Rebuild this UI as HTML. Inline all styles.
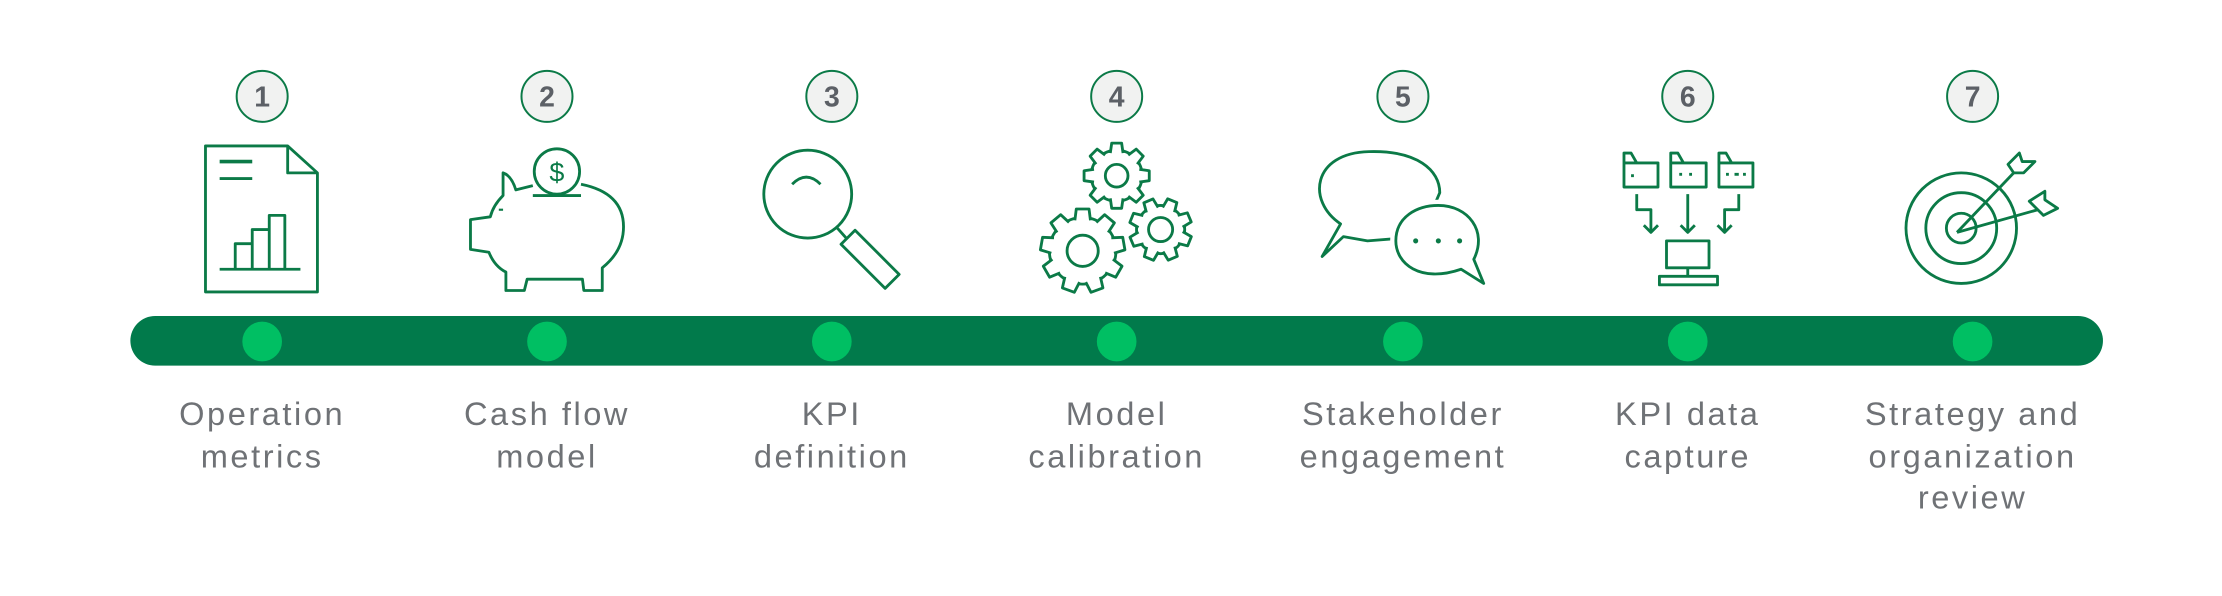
<!DOCTYPE html>
<html><head><meta charset="utf-8"><style>
html,body{margin:0;padding:0;background:#fff;}
svg{display:block;}
.t{font-family:"Liberation Sans",sans-serif;font-size:23px;letter-spacing:1.8px;fill:#6f7276;text-anchor:middle;}
.n{font-family:"Liberation Sans",sans-serif;font-size:20px;font-weight:bold;fill:#5c6066;text-anchor:middle;}
.ic{fill:none;stroke:#0b7a47;stroke-width:2;stroke-linejoin:round;}
.nc{fill:#f1f2f1;stroke:#0b7a47;stroke-width:1.4;}
.tooth{fill:#fff;stroke:#0b7a47;stroke-width:2;stroke-linejoin:round;}
</style></head><body>
<svg width="2222" height="596" viewBox="0 0 1568 420.6" preserveAspectRatio="none">
<g>
<circle class="nc" cx="185" cy="68" r="18"/><text class="n" x="185" y="75">1</text>
<circle class="nc" cx="386" cy="68" r="18"/><text class="n" x="386" y="75">2</text>
<circle class="nc" cx="587" cy="68" r="18"/><text class="n" x="587" y="75">3</text>
<circle class="nc" cx="788" cy="68" r="18"/><text class="n" x="788" y="75">4</text>
<circle class="nc" cx="990" cy="68" r="18"/><text class="n" x="990" y="75">5</text>
<circle class="nc" cx="1191" cy="68" r="18"/><text class="n" x="1191" y="75">6</text>
<circle class="nc" cx="1392" cy="68" r="18"/><text class="n" x="1392" y="75">7</text>
</g>
<rect x="92" y="223" width="1392" height="35" rx="17.5" fill="#017a4b"/>
<g fill="#00bf63">
<circle cx="185" cy="241" r="14"/><circle cx="386" cy="241" r="14"/><circle cx="587" cy="241" r="14"/>
<circle cx="788" cy="241" r="14"/><circle cx="990" cy="241" r="14"/><circle cx="1191" cy="241" r="14"/><circle cx="1392" cy="241" r="14"/>
</g>
<text class="t" x="185" y="300">Operation</text><text class="t" x="185" y="330">metrics</text>
<text class="t" x="386" y="300">Cash flow</text><text class="t" x="386" y="330">model</text>
<text class="t" x="587" y="300">KPI</text><text class="t" x="587" y="330">definition</text>
<text class="t" x="788" y="300">Model</text><text class="t" x="788" y="330">calibration</text>
<text class="t" x="990" y="300">Stakeholder</text><text class="t" x="990" y="330">engagement</text>
<text class="t" x="1191" y="300">KPI data</text><text class="t" x="1191" y="330">capture</text>
<text class="t" x="1392" y="300">Strategy and</text><text class="t" x="1392" y="330">organization</text><text class="t" x="1392" y="359">review</text>

<g class="ic">
<path d="M145,103 L203,103 L224,122 L224,206 L145,206 Z"/>
<path d="M203,103 L203,122 L224,122"/>
<path d="M155,114 L178,114" stroke-width="2.6"/>
<path d="M155,126 L178,126"/>
<path d="M155,190 L212,190"/>
<path d="M166,190 L166,172 L178,172 L178,190 M178,172 L178,162 L190,162 L190,190 M190,162 L190,152 L201,152 L201,190"/>
</g>
<g class="ic">
<path d="M376,131 L364,134 Q361,124 355,122 L355,138 Q348,145 346,153 L332,155 L332,176 L345,178 Q349,188 357,192 L357,205 L370,205 L372,197 L411,197 L412,205 L425,205 L425,189 Q440,177 440,160 Q440,136 410,130"/>
<circle cx="393" cy="121" r="16" fill="#fff"/>
<path d="M376,138 L410,138"/>
<path d="M352,148 L355,148" stroke-width="1.5"/>
<text x="393" y="128" font-family="Liberation Sans,sans-serif" font-size="19" fill="#0b7a47" stroke="none" text-anchor="middle">$</text>
</g>
<g class="ic">
<ellipse cx="570" cy="137" rx="31" ry="31"/>
<path d="M559,130 Q569,120 579,130"/>
<path d="M590,160 L598,169"/>
<g transform="translate(614,183) rotate(45)"><rect x="-22" y="-7" width="44" height="14"/></g>
</g>
<g class="ic">
<g transform="translate(788,124)">
<circle r="18"/>
<path class="tooth" d="M-4.5,-16 L-3.5,-23 L3.5,-23 L4.5,-16" transform="rotate(0)"/>
<path class="tooth" d="M-4.5,-16 L-3.5,-23 L3.5,-23 L4.5,-16" transform="rotate(45)"/>
<path class="tooth" d="M-4.5,-16 L-3.5,-23 L3.5,-23 L4.5,-16" transform="rotate(90)"/>
<path class="tooth" d="M-4.5,-16 L-3.5,-23 L3.5,-23 L4.5,-16" transform="rotate(135)"/>
<path class="tooth" d="M-4.5,-16 L-3.5,-23 L3.5,-23 L4.5,-16" transform="rotate(180)"/>
<path class="tooth" d="M-4.5,-16 L-3.5,-23 L3.5,-23 L4.5,-16" transform="rotate(225)"/>
<path class="tooth" d="M-4.5,-16 L-3.5,-23 L3.5,-23 L4.5,-16" transform="rotate(270)"/>
<path class="tooth" d="M-4.5,-16 L-3.5,-23 L3.5,-23 L4.5,-16" transform="rotate(315)"/>
<circle r="8"/>
</g>
<g transform="translate(819,162)">
<circle r="17"/>
<path class="tooth" d="M-4.5,-15 L-3.5,-22 L3.5,-22 L4.5,-15" transform="rotate(22)"/>
<path class="tooth" d="M-4.5,-15 L-3.5,-22 L3.5,-22 L4.5,-15" transform="rotate(67)"/>
<path class="tooth" d="M-4.5,-15 L-3.5,-22 L3.5,-22 L4.5,-15" transform="rotate(112)"/>
<path class="tooth" d="M-4.5,-15 L-3.5,-22 L3.5,-22 L4.5,-15" transform="rotate(157)"/>
<path class="tooth" d="M-4.5,-15 L-3.5,-22 L3.5,-22 L4.5,-15" transform="rotate(202)"/>
<path class="tooth" d="M-4.5,-15 L-3.5,-22 L3.5,-22 L4.5,-15" transform="rotate(247)"/>
<path class="tooth" d="M-4.5,-15 L-3.5,-22 L3.5,-22 L4.5,-15" transform="rotate(292)"/>
<path class="tooth" d="M-4.5,-15 L-3.5,-22 L3.5,-22 L4.5,-15" transform="rotate(337)"/>
<circle r="8.5"/>
</g>
<g transform="translate(764,177)">
<circle r="23.5"/>
<path class="tooth" d="M-5.5,-21.5 L-4.5,-29.5 L4.5,-29.5 L5.5,-21.5" transform="rotate(0)"/>
<path class="tooth" d="M-5.5,-21.5 L-4.5,-29.5 L4.5,-29.5 L5.5,-21.5" transform="rotate(40)"/>
<path class="tooth" d="M-5.5,-21.5 L-4.5,-29.5 L4.5,-29.5 L5.5,-21.5" transform="rotate(80)"/>
<path class="tooth" d="M-5.5,-21.5 L-4.5,-29.5 L4.5,-29.5 L5.5,-21.5" transform="rotate(120)"/>
<path class="tooth" d="M-5.5,-21.5 L-4.5,-29.5 L4.5,-29.5 L5.5,-21.5" transform="rotate(160)"/>
<path class="tooth" d="M-5.5,-21.5 L-4.5,-29.5 L4.5,-29.5 L5.5,-21.5" transform="rotate(200)"/>
<path class="tooth" d="M-5.5,-21.5 L-4.5,-29.5 L4.5,-29.5 L5.5,-21.5" transform="rotate(240)"/>
<path class="tooth" d="M-5.5,-21.5 L-4.5,-29.5 L4.5,-29.5 L5.5,-21.5" transform="rotate(280)"/>
<path class="tooth" d="M-5.5,-21.5 L-4.5,-29.5 L4.5,-29.5 L5.5,-21.5" transform="rotate(320)"/>
<circle r="11"/>
</g>
</g>
<g class="ic">
<path d="M946,158 C922,142 926,108 966,107 C1000,106 1016,120 1016,136 L1010,150 L990,168 L965,170 L948,167 L933,181 Z"/>
<path d="M1040,183 L1047,200 L1031,190 C1002,200 985,186 985,170 C985,153 1000,145 1015,145 C1036,145 1050,163 1040,183 Z" stroke="#fff" stroke-width="8" fill="#fff"/>
<path d="M1040,183 L1047,200 L1031,190 C1002,200 985,186 985,170 C985,153 1000,145 1015,145 C1036,145 1050,163 1040,183 Z"/>
<circle cx="999" cy="170" r="1.8" fill="#0b7a47" stroke="none"/>
<circle cx="1015" cy="170" r="1.8" fill="#0b7a47" stroke="none"/>
<circle cx="1030" cy="170" r="1.8" fill="#0b7a47" stroke="none"/>
</g>
<g class="ic" stroke-width="1.8">
<path d="M1146,132 L1146,108 L1151,108 L1155,115 L1170,115 L1170,132 Z M1146,115 L1155,115"/>
<path d="M1179,132 L1179,108 L1184,108 L1188,115 L1204,115 L1204,132 Z M1179,115 L1188,115"/>
<path d="M1213,132 L1213,108 L1218,108 L1222,115 L1237,115 L1237,132 Z M1213,115 L1222,115"/>
<path d="M1152,123 L1152,125 M1185,123 L1187,123 M1192,123 L1194,123 M1218,123 L1220,123 M1224,123 L1227,123 M1230,123 L1232,123"/>
<path d="M1155,137 L1155,148 L1165,148 L1165,164 M1160,159 L1165,164 L1170,159"/>
<path d="M1191,137 L1191,164 M1186,159 L1191,164 L1196,159"/>
<path d="M1227,137 L1227,148 L1217,148 L1217,164 M1212,159 L1217,164 L1222,159"/>
<rect x="1176" y="170" width="30" height="19"/>
<path d="M1191,189 L1191,195"/>
<rect x="1171" y="195" width="41" height="6"/>
</g>
<g class="ic">
<circle cx="1384" cy="161" r="39"/>
<circle cx="1384" cy="161" r="25"/>
<circle cx="1384" cy="161" r="10.5"/>
<path d="M1381,164 L1421,122"/>
<path d="M1381,164 L1438,148"/>
<path d="M1421,122 L1417,116 L1425,108 L1427,114 L1436,114 L1428,122 Z"/>
<path d="M1438,148 L1432,142 L1443,135 L1443,141 L1452,147 L1442,152 Z"/>
</g>
</svg>
</body></html>
